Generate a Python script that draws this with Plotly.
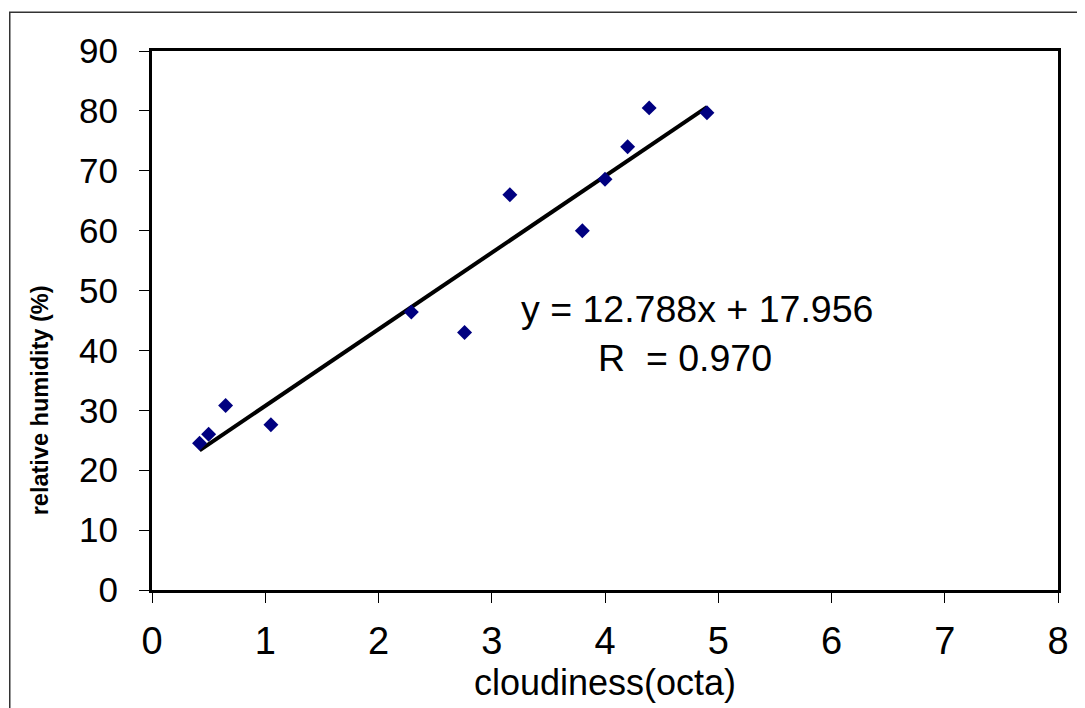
import plotly.graph_objects as go

cloudiness = [0.42, 0.50, 0.65, 1.05, 2.29, 2.76, 3.16, 3.80, 4.00, 4.20, 4.39, 4.90]
humidity = [24.5, 26.0, 30.8, 27.6, 46.4, 43.0, 66.0, 60.0, 68.6, 74.0, 80.5, 79.7]

slope = 12.788
intercept = 17.956
r_value = "0.970"

x_ticks = [0, 1, 2, 3, 4, 5, 6, 7, 8]
y_ticks = [0, 10, 20, 30, 40, 50, 60, 70, 80, 90]

x_fit = [min(cloudiness), max(cloudiness)]
y_fit = [slope * v + intercept for v in x_fit]

fig = go.Figure()
fig.add_trace(go.Scatter(x=x_fit, y=y_fit, mode="lines",
                         line=dict(color="black", width=4), showlegend=False))
fig.add_trace(go.Scatter(x=cloudiness, y=humidity, mode="markers",
                         marker=dict(symbol="diamond", size=11.5, color="#000080"),
                         showlegend=False))

fig.add_annotation(x=4.81, y=46.9, xref="x", yref="y",
                   text=f"y = {slope}x + {intercept}", showarrow=False,
                   font=dict(family="Liberation Sans, Arial", size=37.5, color="black"))
fig.add_annotation(x=4.71, y=38.7, xref="x", yref="y",
                   text=f"R  = {r_value}", showarrow=False,
                   font=dict(family="Liberation Sans, Arial", size=37.5, color="black"))

# y-axis title (placed lower than the plot centre, as in the reference)
fig.add_annotation(x=-0.140, y=31.7, xref="paper", yref="y",
                   text="<b>relative humidity (%)</b>", showarrow=False, textangle=-90,
                   font=dict(family="Liberation Sans, Arial", size=23.5, color="black"))

# outer figure border
fig.add_shape(type="rect", xref="paper", yref="paper",
              x0=-0.157, x1=1.3, y0=-0.4, y1=1.072,
              line=dict(color="#333333", width=1.5), layer="below")

fig.update_layout(
    width=1085, height=708,
    margin=dict(l=144, r=35, t=43, b=126),
    paper_bgcolor="white", plot_bgcolor="white",
    font=dict(family="Liberation Sans, Arial", color="black"),
)
fig.update_xaxes(range=[0, 8], tickvals=x_ticks, showgrid=False, zeroline=False,
                 showline=True, linecolor="black", linewidth=3, mirror=True,
                 ticks="outside", ticklen=10, tickcolor="black", tickwidth=1,
                 ticklabelstandoff=5,
                 tickfont=dict(size=38, family="Liberation Sans Narrow, Arial Narrow, Liberation Sans"),
                 title=dict(text="cloudiness(octa)", standoff=0,
                            font=dict(size=36, family="Liberation Sans, Arial")))
fig.update_yaxes(range=[0, 90], tickvals=y_ticks, showgrid=False, zeroline=False,
                 showline=True, linecolor="black", linewidth=3, mirror=True,
                 ticks="outside", ticklen=10, tickcolor="black", tickwidth=1,
                 ticklabelstandoff=14,
                 tickfont=dict(size=35))

fig.write_html("out.html")
